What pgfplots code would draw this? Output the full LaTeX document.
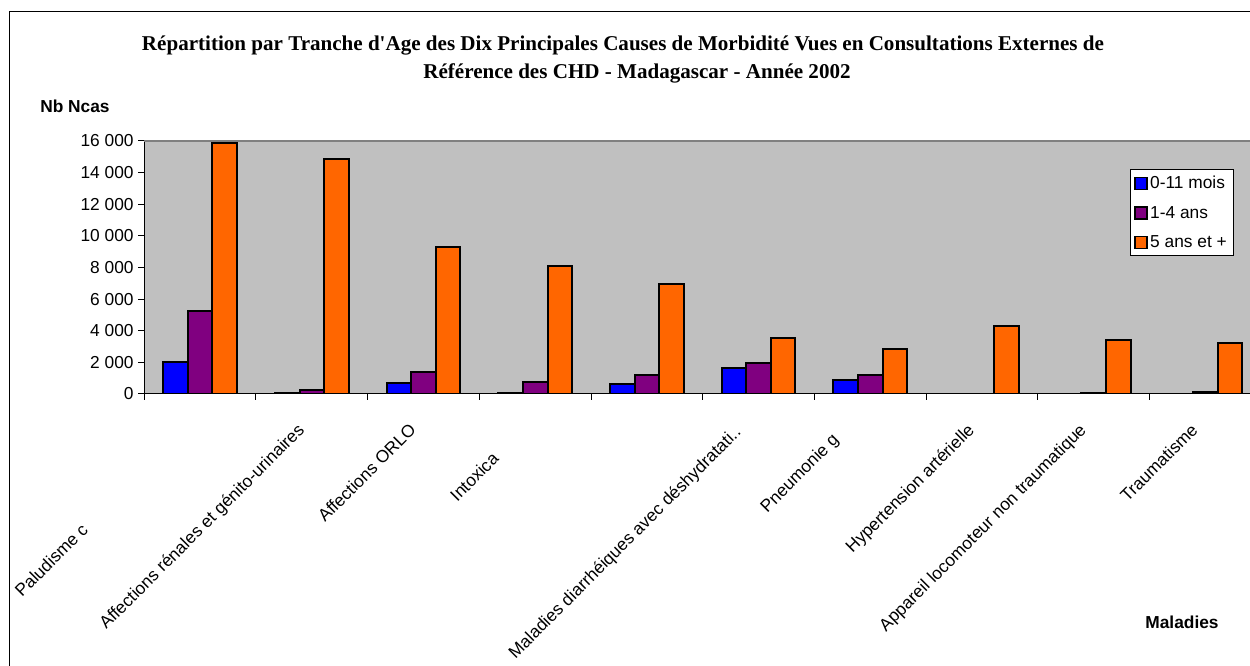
\documentclass[border=0pt]{standalone}
\usepackage{fontspec}
\setmainfont{Liberation Sans}
\newfontfamily\titlefont{Liberation Serif}
\usepackage{pgfplots}
\pgfplotsset{compat=1.18}
\definecolor{c1}{HTML}{0000FF}
\definecolor{c2}{HTML}{800080}
\definecolor{c3}{HTML}{FF6600}
\definecolor{plotbg}{HTML}{C0C0C0}
% #1 = space after text (moves the text end back along its direction), #2 = raise
\newcommand\lbl[3]{\raisebox{#2}{#3\hspace*{#1}}}
\begin{document}
\begin{tikzpicture}[x=0.75pt,y=0.75pt]
\useasboundingbox (0,0) rectangle (1250,666);
\draw[black, line width=0.75pt] (9,-5) -- (9,654) -- (1260,654);
\begin{axis}[
  at={(108.225pt,204pt)}, anchor=south west,
  scale only axis, width=829.3pt, height=189.75pt,
  xmin=-0.5, xmax=9.4, ymin=0, ymax=16000,
  axis x line*=bottom, axis y line*=left, axis line style={-, black, line width=0.75pt},
  axis background/.style={fill=plotbg},
  ybar=0pt, bar width=18.45pt,
  tick align=outside, major tick length=4.5pt, minor tick length=4.5pt,
  scaled y ticks=false,
  ytick={0,2000,4000,6000,8000,10000,12000,14000,16000},
  yticklabels={0,2 000,4 000,6 000,8 000,10 000,12 000,14 000,16 000},
  yticklabel style={font=\fontsize{13}{15}\selectfont},
  ytick style={black, line width=0.75pt},
  extra y ticks={16000}, extra y tick labels={},
  extra y tick style={grid=major, major grid style={draw=gray, line width=1.5pt}, ytick style={draw=none}},
  xtick={0,1,2,3,4,5,6,7,8,9},
  minor xtick={-0.5,0.5,1.5,2.5,3.5,4.5,5.5,6.5,7.5,8.5},
  major x tick style={draw=none},
  minor x tick style={black, line width=0.75pt},
  xticklabels={{\lbl{108.5pt}{2.4pt}{Paludisme c}},{Affections rénales et génito-urinaires},{Affections ORLO},{\lbl{30.7pt}{0pt}{Intoxica}},{},{\lbl{6.5pt}{4.3pt}{Maladies diarrhéiques avec déshydratati..}},{\lbl{18pt}{7.5pt}{Pneumonie g}},{Hypertension artérielle},{Appareil locomoteur non traumatique},{Traumatisme}},
  xticklabel style={xshift=-4.85pt, yshift=-23.25pt, rotate=45, anchor=base east, inner sep=0pt, font=\fontsize{13}{15}\selectfont},
  legend style={at={(rel axis cs:0.9855,0.889)}, anchor=north east, draw=black, line width=0.75pt, fill=white, font=\fontsize{13}{15}\selectfont, row sep=7.5pt, inner sep=3pt},
  legend cell align=left,
  legend image code/.code={\draw[#1, line width=1pt] (0pt,-4.5pt) rectangle (9pt,4.5pt);},
]
\addplot[fill=c1, draw=black, line width=1.5pt] coordinates {(0,2000) (1,40) (2,700) (3,60) (4,620) (5,1640) (6,880) (8,20) (9,30)};
\addplot[fill=c2, draw=black, line width=1.5pt] coordinates {(0,5250) (1,250) (2,1400) (3,780) (4,1170) (5,1960) (6,1180) (8,60) (9,130)};
\addplot[fill=c3, draw=black, line width=1.5pt] coordinates {(0,15870) (1,14860) (2,9300) (3,8090) (4,6960) (5,3540) (6,2850) (7,4300) (8,3415) (9,3220)};
\legend{0-11 mois,1-4 ans,5 ans et +}
\end{axis}
\node[font=\titlefont\bfseries\fontsize{15.8}{18}\selectfont] at (623,620) {Répartition par Tranche d'Age des Dix Principales Causes de Morbidité Vues en Consultations Externes de};
\node[font=\titlefont\bfseries\fontsize{15.8}{18}\selectfont] at (637,593) {Référence des CHD - Madagascar - Année 2002};
\node[font=\bfseries\fontsize{13}{15}\selectfont, anchor=west, inner sep=0pt] at (40,560) {Nb Ncas};
\node[font=\bfseries\fontsize{13}{15}\selectfont, inner sep=0pt] at (1182,44) {Maladies};
\end{tikzpicture}
\end{document}
